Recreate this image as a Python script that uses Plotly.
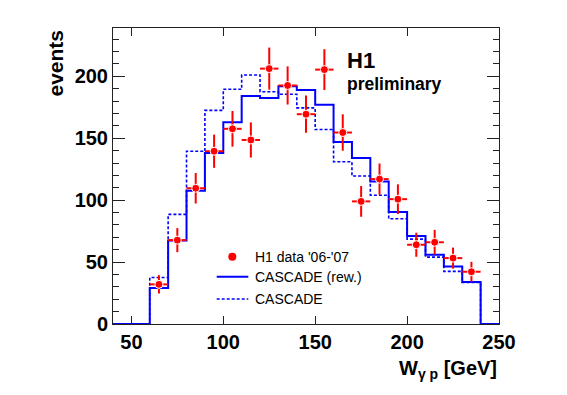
import plotly.graph_objects as go

# ---- data ----
bin_edges = [40, 50, 60, 70, 80, 90, 100, 110, 120, 130, 140, 150, 160, 170, 180, 190, 200, 210, 220, 230, 240, 250]
cascade_rew = [0, 0, 29, 67.5, 107.5, 138, 163, 184, 182.5, 192, 189, 177, 147, 134, 115, 90.5, 71, 56, 46.5, 34, 0]
cascade = [0, 0, 37.5, 88.5, 139.5, 172.5, 189.5, 201, 187.5, 185.5, 174.5, 157, 131, 119.5, 104, 85, 68.5, 54, 42.5, 33.5, 0]

data_x = [65, 75, 85, 95, 105, 115, 125, 135, 145, 155, 165, 175, 185, 195, 205, 215, 225, 235]
data_y = [32, 67.7, 109.6, 139.5, 157.6, 148.6, 206.2, 192.6, 169.4, 205.4, 154.6, 99, 117, 100.8, 64, 66, 53.2, 42.2]
data_err = [7.4, 9.7, 12.3, 13.4, 14.4, 14.2, 17, 15.4, 15, 16.5, 14.7, 12.4, 12.6, 12, 9.7, 10, 8.5, 8]
data_xerr = [5] * len(data_x)

x_tickvals = [50, 100, 150, 200, 250]
y_tickvals = [0, 50, 100, 150, 200]

legend_labels = ["H1 data '06-'07", "CASCADE (rew.)", "CASCADE"]

FONT = "Liberation Sans, Arial, Helvetica, sans-serif"
RED = "#ff0000"
BLUE = "#0000ff"

fig = go.Figure()

fig.add_trace(go.Scatter(
    x=bin_edges, y=cascade + [cascade[-1]], mode="lines", line_shape="hv",
    line=dict(color=BLUE, width=1.6, dash="3px,2px"), showlegend=False, hoverinfo="skip"))
fig.add_trace(go.Scatter(
    x=bin_edges, y=cascade_rew + [cascade_rew[-1]], mode="lines", line_shape="hv",
    line=dict(color=BLUE, width=2), showlegend=False, hoverinfo="skip"))
fig.add_trace(go.Scatter(
    x=data_x, y=data_y, mode="markers",
    marker=dict(color=RED, size=8, line=dict(color="white", width=1)),
    error_y=dict(type="data", array=data_err, color=RED, thickness=2, width=0),
    error_x=dict(type="data", array=data_xerr, color=RED, thickness=2, width=0),
    showlegend=False))

# page offset from default body margin
OFF = 8
W, H = 567 - OFF, 395 - OFF
# plot area in page pixels
L, R, T, B = 113, 499, 28, 324


def px(xpix):
    return (xpix - L) / (R - L)


def py(ypix):
    return (B - ypix) / (B - T)


annotations = [
    dict(text="<b>events</b>", x=px(55), y=py(28), xref="paper", yref="paper",
         xanchor="center", yanchor="top", textangle=-90, showarrow=False,
         font=dict(family=FONT, size=21, color="black")),
    dict(text="<b>W<sub>γ p</sub> [GeV]</b>", x=px(499), y=py(355), xref="paper", yref="paper",
         xanchor="right", yanchor="top", showarrow=False,
         font=dict(family=FONT, size=20, color="black")),
    dict(text="<b>H1</b>", x=px(345), y=py(60.5), xref="paper", yref="paper",
         xanchor="left", yanchor="middle", showarrow=False,
         font=dict(family=FONT, size=22, color="black")),
    dict(text="<b>preliminary</b>", x=px(345), y=py(84), xref="paper", yref="paper",
         xanchor="left", yanchor="middle", showarrow=False,
         font=dict(family=FONT, size=17.5, color="black")),
]
leg_y = [256.7, 276.7, 299]
for lab, yy in zip(legend_labels, leg_y):
    annotations.append(dict(text=lab, x=px(253), y=py(yy), xref="paper", yref="paper",
                            xanchor="left", yanchor="middle", showarrow=False,
                            font=dict(family=FONT, size=14, color="black")))

shapes = [
    dict(type="circle", xref="paper", yref="paper", xsizemode="pixel", ysizemode="pixel",
         xanchor=px(232.3), yanchor=py(leg_y[0]), x0=-4, x1=4, y0=-4, y1=4,
         fillcolor=RED, line=dict(color=RED, width=0)),
    dict(type="line", xref="paper", yref="paper", x0=px(216.7), x1=px(248.3),
         y0=py(leg_y[1]), y1=py(leg_y[1]), line=dict(color=BLUE, width=2)),
    dict(type="line", xref="paper", yref="paper", x0=px(216.7), x1=px(248.3),
         y0=py(leg_y[2]), y1=py(leg_y[2]), line=dict(color=BLUE, width=1.6, dash="3px,2px")),
]

fig.update_layout(
    width=W, height=H,
    margin=dict(l=L - OFF, r=567 - R, t=T - OFF, b=395 - B, pad=0),
    paper_bgcolor="white", plot_bgcolor="white",
    annotations=annotations, shapes=shapes,
    showlegend=False,
    xaxis=dict(range=[40, 250], tickvals=x_tickvals, ticks="inside", ticklen=8, tickwidth=1,
               tickcolor="#222", showgrid=False, zeroline=False, showline=True, linecolor="#222",
               linewidth=1, mirror="ticks", ticklabelstandoff=0,
               tickfont=dict(family=FONT, size=20, color="black", weight="bold")),
    yaxis=dict(range=[0, 239], tickvals=y_tickvals, ticks="inside", ticklen=12, tickwidth=1,
               tickcolor="#222", showgrid=False, zeroline=False, showline=True, linecolor="#222",
               linewidth=1, mirror="ticks",
               minor=dict(dtick=10, ticks="inside", ticklen=6, tickcolor="#222", showgrid=False),
               tickfont=dict(family=FONT, size=20, color="black", weight="bold")),
)

fig.write_html("out.html")
